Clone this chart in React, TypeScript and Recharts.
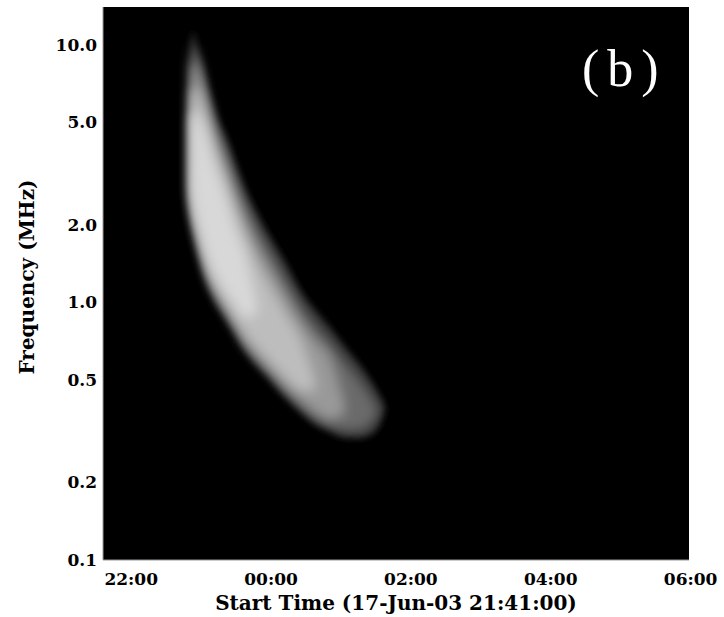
import { ComposedChart, Area, XAxis, YAxis, CartesianGrid, Label } from "recharts";

// time in hours since 17-Jun 00:00 (24 = midnight of the next day)
const times = [22.9, 22.93, 22.97, 23.03, 23.1, 23.17, 23.27, 23.39, 23.53, 23.67, 23.84, 24.03, 24.24, 24.46, 24.67, 24.89, 25.1, 25.29, 25.46, 25.57, 25.66];

// burst envelope levels, frequency (MHz) of the high and low edge at each time
const faintHigh = [10.42, 11.2, 10.06, 8.72, 7.29, 6.27, 5.1, 4.38, 3.41, 2.73, 2.2, 1.78, 1.43, 1.11, 0.934, 0.795, 0.671, 0.581, 0.5, 0.445, 0.4];
const faintLow = [2.5, 2.09, 1.83, 1.55, 1.31, 1.15, 1.0, 0.885, 0.767, 0.659, 0.576, 0.509, 0.437, 0.382, 0.34, 0.317, 0.3, 0.298, 0.306, 0.328, 0.382];

const dimHigh = [9.36, 9.88, 9.36, 8.26, 6.79, 5.78, 4.67, 3.9, 3.04, 2.43, 1.94, 1.57, 1.24, 0.977, 0.817, 0.696, 0.587, 0.509, 0.437, 0.389];
const dimLow = [2.54, 2.18, 1.89, 1.61, 1.36, 1.19, 1.04, 0.917, 0.795, 0.683, 0.597, 0.527, 0.453, 0.396, 0.356, 0.331, 0.317, 0.317, 0.334, 0.366];

const midHigh = [7.97, 8.56, 8.26, 7.42, 6.1, 5.19, 4.19, 3.41, 2.66, 2.13, 1.68, 1.36, 1.08, 0.854, 0.714, 0.608, 0.4];
const midLow = [2.59, 2.24, 1.96, 1.67, 1.41, 1.23, 1.08, 0.951, 0.824, 0.708, 0.619, 0.546, 0.474, 0.418, 0.375, 0.35, 0.37];

const brightHigh = [6.38, 6.79, 6.79, 6.32, 5.33, 4.58, 3.7, 2.98, 2.28, 1.83, 1.43, 1.16, 0.917, 0.727, 0.5];
const brightLow = [2.68, 2.32, 2.03, 1.75, 1.49, 1.3, 1.14, 1.0, 0.87, 0.754, 0.665, 0.587, 0.513, 0.457, 0.45];

const coreHigh = [5.1, 5.48, 5.58, 5.19, 4.58, 3.9, 3.21, 2.59, 1.94, 1.54, 0.98];
const coreLow = [2.85, 2.45, 2.16, 1.88, 1.6, 1.41, 1.24, 1.1, 0.977, 0.87, 0.9];

const freqTicks = [0.1, 0.2, 0.5, 1, 2, 5, 10];
const timeTicks = [22, 24, 26, 28, 30];

const pick = (lo: number[], hi: number[], i: number) =>
  i < lo.length ? [lo[i], hi[i]] : undefined;

const data = times.map((t, i) => ({
  t,
  faint: pick(faintLow, faintHigh, i),
  dim: pick(dimLow, dimHigh, i),
  mid: pick(midLow, midHigh, i),
  bright: pick(brightLow, brightHigh, i),
  core: pick(coreLow, coreHigh, i),
}));

const font = "'DejaVu Serif', serif";
const tickStyle = { fontFamily: font, fontWeight: 700, fontSize: 17, fill: "#000" };
const titleStyle = { ...tickStyle, fontSize: 20 };

const layers = [
  { key: "faint", color: "#363636", blur: "soft" },
  { key: "dim", color: "#6a6a6a", blur: "softer" },
  { key: "mid", color: "#999999", blur: "softer" },
  { key: "bright", color: "#bdbdbd", blur: "softer" },
  { key: "core", color: "#d8d8d8", blur: "softer" },
];

export default function App() {
  return (
    <div style={{ position: "absolute", left: 0, top: 0, background: "#fff" }}>
      <ComposedChart
        width={724}
        height={617}
        data={data}
        margin={{ top: 7, right: 35, left: 43, bottom: 0 }}
      >
        <defs>
          <filter id="soft" x="-30%" y="-30%" width="160%" height="160%">
            <feGaussianBlur stdDeviation="3.5" />
          </filter>
          <filter id="softer" x="-30%" y="-30%" width="160%" height="160%">
            <feGaussianBlur stdDeviation="6" />
          </filter>
        </defs>
        <CartesianGrid horizontal={false} vertical={false} fill="#000" fillOpacity={1} />
        <XAxis
          dataKey="t"
          type="number"
          domain={[21.64, 30.02]}
          ticks={timeTicks}
          allowDataOverflow
          tickFormatter={(h: number) => String(h % 24).padStart(2, "0") + ":00"}
          tick={{ ...tickStyle, dx: 3 }}
          tickLine={false}
          tickSize={0}
          tickMargin={13}
          axisLine={{ stroke: "#999" }}
          height={57}
        >
          <Label
            value="Start Time (17-Jun-03 21:41:00)"
            position="insideBottom"
            offset={7}
            style={titleStyle}
          />
        </XAxis>
        <YAxis
          type="number"
          scale="log"
          domain={[0.1, 14]}
          allowDataOverflow
          ticks={freqTicks}
          tickFormatter={(v: number) => v.toFixed(1)}
          tick={tickStyle}
          tickLine={false}
          tickSize={0}
          tickMargin={6}
          axisLine={{ stroke: "#999" }}
          width={60}
        />
        {layers.map((l) => (
          <Area
            key={l.key}
            dataKey={l.key}
            type="monotone"
            fill={l.color}
            fillOpacity={1}
            stroke="none"
            filter={`url(#${l.blur})`}
            isAnimationActive={false}
            activeDot={false}
          />
        ))}
        <text
          x={28}
          y={277}
          transform="rotate(-90 28 277)"
          textAnchor="middle"
          dominantBaseline="middle"
          style={titleStyle}
        >
          Frequency (MHz)
        </text>
        <text
          x={582}
          y={86}
          fill="#fff"
          fontFamily="'Liberation Serif', serif"
          fontSize={52}
          letterSpacing={8}
        >
          (b)
        </text>
      </ComposedChart>
    </div>
  );
}
